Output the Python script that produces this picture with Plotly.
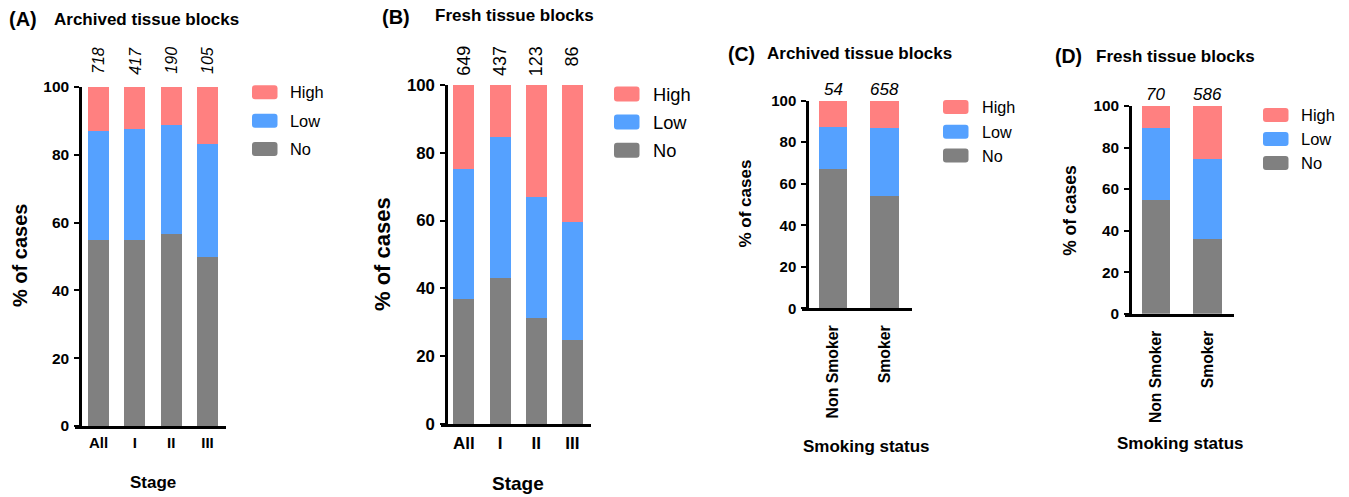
import plotly.graph_objects as go

# ---- data -------------------------------------------------------------
stage_labels = ["All", "I", "II", "III"]
smoke_labels = ["Non Smoker", "Smoker"]

# (A) archived tissue blocks by stage, % of cases
a_no = [54.8, 55.0, 56.6, 49.8]
a_low = [32.2, 32.5, 32.1, 33.4]
a_high = [13.0, 12.5, 11.3, 16.8]
a_n = [718, 417, 190, 105]

# (B) fresh tissue blocks by stage
b_no = [36.9, 43.1, 31.3, 24.8]
b_low = [38.2, 41.5, 35.8, 34.9]
b_high = [24.9, 15.4, 32.9, 40.3]
b_n = [649, 437, 123, 86]

# (C) archived tissue blocks by smoking status
c_no = [67.4, 54.1]
c_low = [20.3, 33.1]
c_high = [12.3, 12.8]
c_n = [54, 658]

# (D) fresh tissue blocks by smoking status
d_no = [54.7, 36.0]
d_low = [34.6, 38.3]
d_high = [10.7, 25.7]
d_n = [70, 586]

levels = ["High", "Low", "No"]

# ---- styling ----------------------------------------------------------
W, H = 1349, 497
FONT = "Arial, Liberation Sans, sans-serif"
COLORS = {"High": "#FF8080", "Low": "#55A1FF", "No": "#808080"}


def fx(p):
    return p / W


def fy(p):
    return 1 - p / H


def rounded_box(x0, y0, x1, y1, r=3):
    """SVG path (paper units) for a small rounded rectangle given in pixels."""
    pts = [
        f"M{fx(x0 + r)},{fy(y0)}", f"L{fx(x1 - r)},{fy(y0)}",
        f"Q{fx(x1)},{fy(y0)} {fx(x1)},{fy(y0 + r)}", f"L{fx(x1)},{fy(y1 - r)}",
        f"Q{fx(x1)},{fy(y1)} {fx(x1 - r)},{fy(y1)}", f"L{fx(x0 + r)},{fy(y1)}",
        f"Q{fx(x0)},{fy(y1)} {fx(x0)},{fy(y1 - r)}", f"L{fx(x0)},{fy(y0 + r)}",
        f"Q{fx(x0)},{fy(y0)} {fx(x0 + r)},{fy(y0)}", "Z",
    ]
    return " ".join(pts)


panels = [
    dict(tag="(A)", title="Archived tissue blocks", cats=stage_labels,
         vals={"No": a_no, "Low": a_low, "High": a_high}, n=a_n, n_italic=True,
         n_rot=True, n_size=16, n_y=45,
         axis_x=80, x1=226, y0=426, y1=87, c0=98.5, step=36.33, bw=0.58,
         tick_size=15.5, xtick_size=15, xtick_angle=0, xtick_gap=1,
         ytitle=dict(x=20, y=256, size=20),
         xtitle=dict(text="Stage", x=152.5, y=482, size=17),
         head=dict(tx=7, ty=19, tsize=20, hx=52, hy=19, hsize=17),
         leg=dict(sx=252, tx=289, ys=[92.3, 120.7, 149], h=14, size=16.4)),
    dict(tag="(B)", title="Fresh tissue blocks", cats=stage_labels,
         vals={"No": b_no, "Low": b_low, "High": b_high}, n=b_n, n_italic=False,
         n_rot=True, n_size=18, n_y=44,
         axis_x=446, x1=591, y0=424, y1=85, c0=463.8, step=36.2, bw=0.58,
         tick_size=16.8, xtick_size=17, xtick_angle=0, xtick_gap=2,
         ytitle=dict(x=382, y=254, size=22),
         xtitle=dict(text="Stage", x=518, y=483.5, size=19),
         head=dict(tx=380, ty=17, tsize=20, hx=433, hy=16, hsize=17),
         leg=dict(sx=614, tx=652, ys=[94, 122, 150.3], h=15, size=18.3)),
    dict(tag="(C)", title="Archived tissue blocks", cats=smoke_labels,
         vals={"No": c_no, "Low": c_low, "High": c_high}, n=c_n, n_italic=True,
         n_rot=False, n_size=17, n_y=89.7,
         axis_x=807, x1=911.7, y0=308.3, y1=100.7, c0=833, step=51.7, bw=0.55,
         tick_size=15, xtick_size=15.8, xtick_angle=-90, xtick_gap=8,
         ytitle=dict(x=745, y=203.5, size=17),
         xtitle=dict(text="Smoking status", x=866.7, y=446.5, size=17),
         head=dict(tx=726, ty=54, tsize=19.5, hx=765, hy=53, hsize=17),
         leg=dict(sx=943, tx=980.7, ys=[107, 131.7, 155.5], h=14, size=16.2)),
    dict(tag="(D)", title="Fresh tissue blocks", cats=smoke_labels,
         vals={"No": d_no, "Low": d_low, "High": d_high}, n=d_n, n_italic=True,
         n_rot=False, n_size=17, n_y=94.5,
         axis_x=1130, x1=1234.3, y0=313.7, y1=106, c0=1155.8, step=51.9, bw=0.55,
         tick_size=15.4, xtick_size=15.7, xtick_angle=-90, xtick_gap=8,
         ytitle=dict(x=1070, y=210.8, size=17.5),
         xtitle=dict(text="Smoking status", x=1180.3, y=443, size=17),
         head=dict(tx=1053, ty=56, tsize=19.5, hx=1094, hy=56.5, hsize=17),
         leg=dict(sx=1263, tx=1300, ys=[115, 139, 163], h=14, size=16.5)),
]

fig = go.Figure()
annotations = []
shapes = []
layout = {}

for i, p in enumerate(panels, start=1):
    xa = "x" if i == 1 else f"x{i}"
    ya = "y" if i == 1 else f"y{i}"
    xkey = "xaxis" if i == 1 else f"xaxis{i}"
    ykey = "yaxis" if i == 1 else f"yaxis{i}"

    # stacked bars: No at the bottom, then Low, then High
    for lvl in ["No", "Low", "High"]:
        fig.add_trace(go.Bar(
            x=p["cats"], y=p["vals"][lvl], name=lvl, xaxis=xa, yaxis=ya,
            width=p["bw"], marker=dict(color=COLORS[lvl], line=dict(width=0)),
            showlegend=False, hovertemplate="%{x}: %{y}%<extra>" + lvl + "</extra>",
        ))

    x0 = p["axis_x"] - 5
    r0 = -(p["c0"] - x0) / p["step"]
    r1 = r0 + (p["x1"] - x0) / p["step"]

    layout[xkey] = dict(
        domain=[fx(x0), fx(p["x1"])], anchor=ya, range=[r0, r1],
        type="category", showline=True, linecolor="black", linewidth=2.5,
        ticks="", showgrid=False, zeroline=False, tickangle=p["xtick_angle"],
        ticklabelstandoff=p["xtick_gap"], automargin=False,
        tickfont=dict(family=FONT, size=p["xtick_size"], color="black", weight="bold"),
        fixedrange=True,
    )
    layout[ykey] = dict(
        domain=[fy(p["y0"]), fy(p["y1"])], anchor="free", position=fx(p["axis_x"]),
        range=[0, 100], tick0=0, dtick=20, showline=True, linecolor="black",
        linewidth=2.5, ticks="outside", ticklen=5, tickwidth=2, tickcolor="black",
        showgrid=False, zeroline=False, ticklabelstandoff=2, automargin=False,
        tickfont=dict(family=FONT, size=p["tick_size"], color="black", weight="bold"),
        fixedrange=True,
    )

    # case counts above each bar
    for cat, n in zip(p["cats"], p["n"]):
        annotations.append(dict(
            x=cat, xref=xa, y=fy(p["n_y"]), yref="paper",
            text=f"<i>{n}</i>" if p["n_italic"] else str(n),
            showarrow=False, textangle=-90 if p["n_rot"] else 0,
            xanchor="center", yanchor="top" if p["n_rot"] else "middle",
            font=dict(family=FONT, size=p["n_size"], color="black"),
        ))

    # axis titles
    yt = p["ytitle"]
    annotations.append(dict(
        x=fx(yt["x"]), y=fy(yt["y"]), xref="paper", yref="paper",
        text="% of cases", textangle=-90, showarrow=False,
        xanchor="center", yanchor="middle",
        font=dict(family=FONT, size=yt["size"], color="black", weight="bold"),
    ))
    xt = p["xtitle"]
    annotations.append(dict(
        x=fx(xt["x"]), y=fy(xt["y"]), xref="paper", yref="paper",
        text=xt["text"], showarrow=False, xanchor="center", yanchor="middle",
        font=dict(family=FONT, size=xt["size"], color="black", weight="bold"),
    ))

    # panel heading
    hd = p["head"]
    annotations.append(dict(
        x=fx(hd["tx"]), y=fy(hd["ty"]), xref="paper", yref="paper",
        text=p["tag"], showarrow=False, xanchor="left", yanchor="middle",
        font=dict(family=FONT, size=hd["tsize"], color="black", weight="bold"),
    ))
    annotations.append(dict(
        x=fx(hd["hx"]), y=fy(hd["hy"]), xref="paper", yref="paper",
        text=p["title"], showarrow=False, xanchor="left", yanchor="middle",
        font=dict(family=FONT, size=hd["hsize"], color="black", weight="bold"),
    ))

    # key: coloured swatches with level names
    lg = p["leg"]
    for lvl, yc in zip(levels, lg["ys"]):
        shapes.append(dict(
            type="path", xref="paper", yref="paper",
            path=rounded_box(lg["sx"], yc - lg["h"] / 2, lg["sx"] + 25.5, yc + lg["h"] / 2),
            fillcolor=COLORS[lvl], line=dict(width=0), layer="above",
        ))
        annotations.append(dict(
            x=fx(lg["tx"] - 1), y=fy(yc), xref="paper", yref="paper",
            text=lvl, showarrow=False, xanchor="left", yanchor="middle",
            font=dict(family=FONT, size=lg["size"], color="black"),
        ))

fig.update_layout(
    template="none",
    width=W, height=H, margin=dict(l=0, r=0, t=0, b=0, pad=0, autoexpand=False),
    paper_bgcolor="white", plot_bgcolor="white",
    barmode="stack", bargap=0, showlegend=False,
    annotations=annotations, shapes=shapes,
    font=dict(family=FONT, color="black"),
    **layout,
)

fig.write_html("out.html", config={"displayModeBar": False})
